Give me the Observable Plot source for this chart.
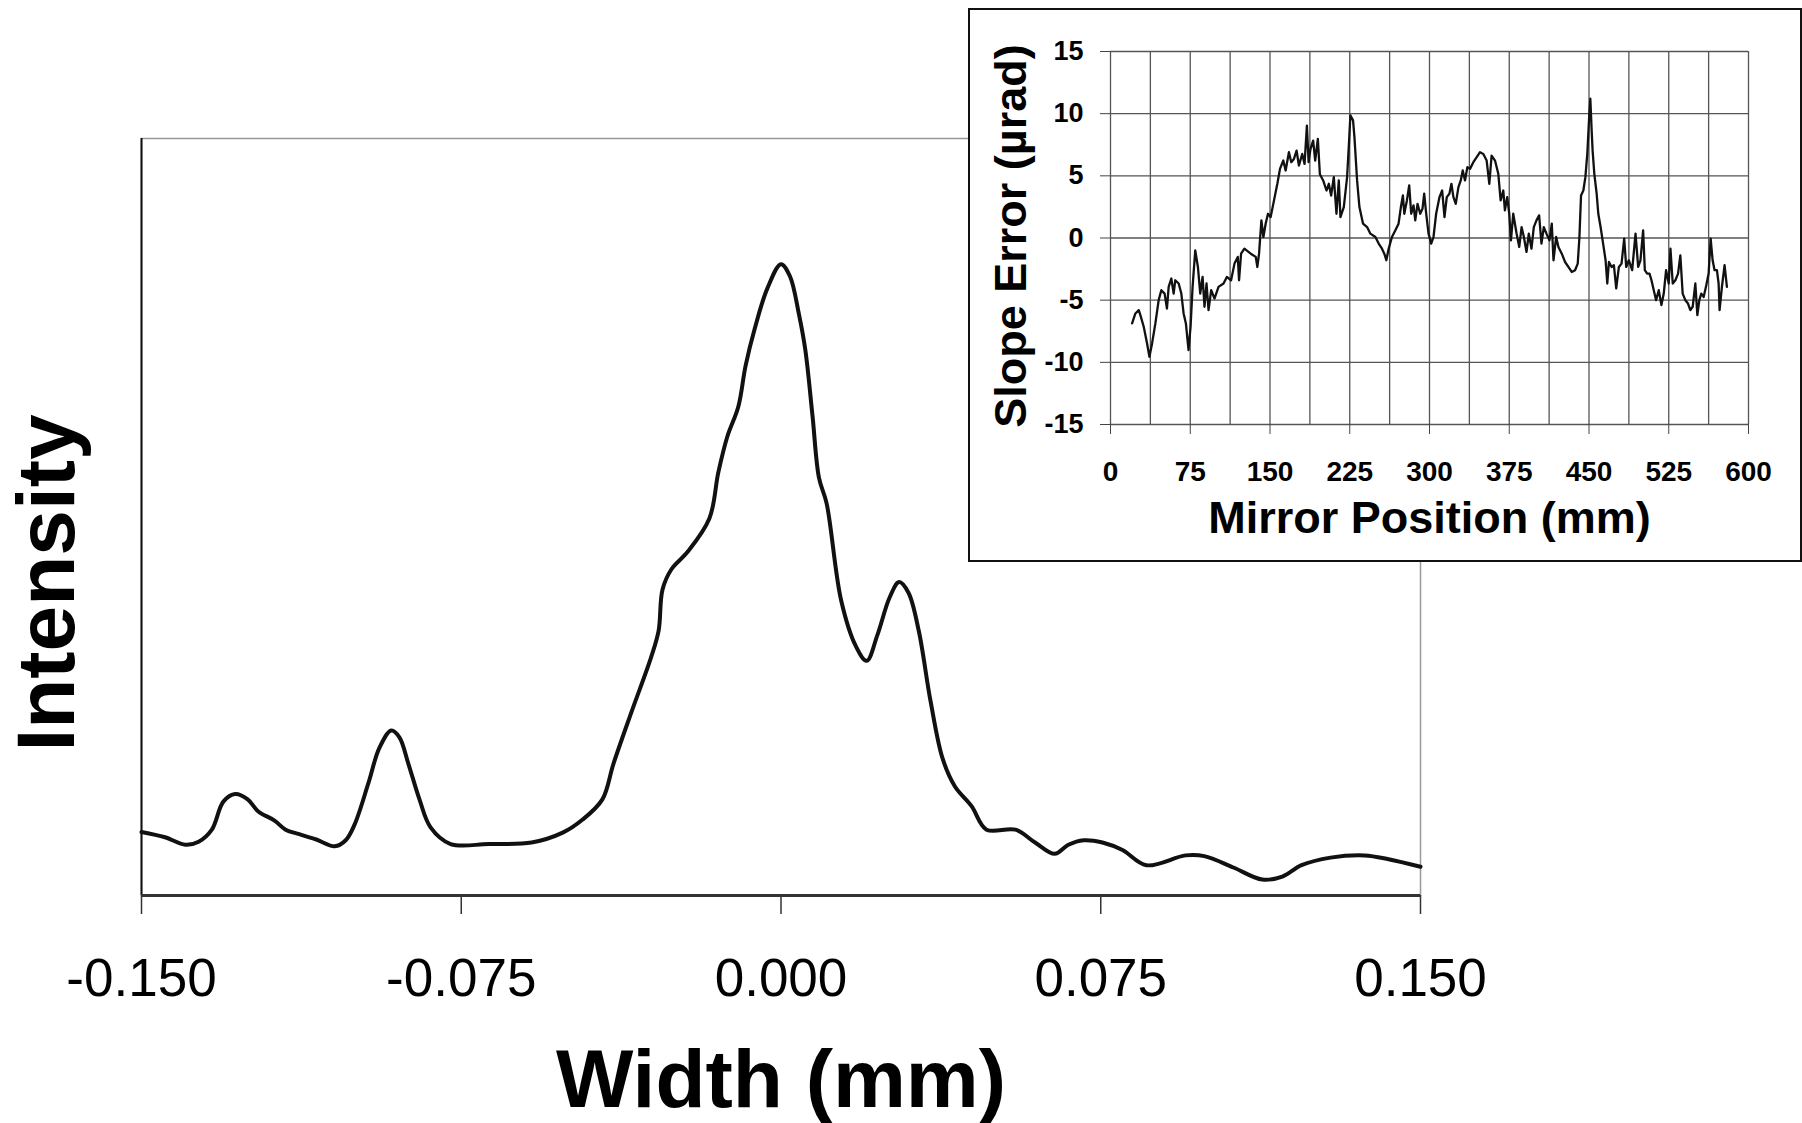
<!DOCTYPE html>
<html><head><meta charset="utf-8">
<script src="https://cdn.jsdelivr.net/npm/d3@7"></script>
<script src="https://cdn.jsdelivr.net/npm/@observablehq/plot@0.6"></script>
<style>
body{margin:0;background:#fff;font-family:"Liberation Sans",Arial,sans-serif;}
#wrap{position:relative;width:1802px;height:1123px;overflow:hidden;background:#fff;}
#main{position:absolute;left:0;top:0;}
#inset{position:absolute;left:968px;top:8px;width:830px;height:550px;border:2px solid #111;background:#fff;}
svg{display:block;}
</style></head><body><div id="wrap"><div id="main"></div><div id="inset"></div></div>
<script>
// Main chart: intensity profile vs width (mm)
const widthMm = [-0.150,-0.1445,-0.1397,-0.1366,-0.1335,-0.1308,-0.1280,-0.1251,-0.1226,-0.1188,-0.1162,-0.1130,-0.1090,-0.1047,-0.1021,-0.1000,-0.0968,-0.0942,-0.0914,-0.0895,-0.0874,-0.0848,-0.0822,-0.0775,-0.0686,-0.0585,-0.0512,-0.0466,-0.0419,-0.0393,-0.0351,-0.0304,-0.0287,-0.0278,-0.0257,-0.0219,-0.0168,-0.0147,-0.0126,-0.0100,-0.0083,-0.0062,-0.0032,0.0000,0.0021,0.0042,0.0057,0.0074,0.0089,0.0107,0.0141,0.0175,0.0201,0.0226,0.0255,0.0277,0.0299,0.0323,0.0351,0.0379,0.0408,0.0447,0.0482,0.0550,0.0596,0.0642,0.0674,0.0710,0.0754,0.0801,0.0857,0.0949,0.0993,0.1061,0.1129,0.1176,0.1221,0.1289,0.1369,0.1425,0.150];
const intensity = [0.084,0.077,0.067,0.071,0.087,0.124,0.134,0.127,0.111,0.099,0.087,0.081,0.074,0.065,0.073,0.094,0.148,0.195,0.218,0.209,0.174,0.127,0.090,0.068,0.068,0.070,0.083,0.100,0.127,0.174,0.242,0.316,0.350,0.404,0.431,0.454,0.498,0.559,0.606,0.646,0.700,0.748,0.802,0.834,0.818,0.768,0.721,0.633,0.552,0.518,0.390,0.330,0.310,0.344,0.394,0.414,0.400,0.350,0.256,0.181,0.144,0.118,0.087,0.087,0.070,0.055,0.067,0.073,0.070,0.060,0.040,0.053,0.052,0.037,0.021,0.025,0.040,0.050,0.053,0.048,0.038];
const widthTicks = [-0.150,-0.075,0.000,0.075,0.150];

// Inset: slope error vs mirror position
const mirrorPos = [20.3,23.4,26.6,28.1,31.25,34.4,36.6,39.1,42.2,45.3,47.8,50.9,53.1,54.7,57.2,59.4,60.9,64.1,66.6,68.75,70.9,73.4,75.3,77.2,79.7,82.2,84.4,86.6,88.4,90.3,92.2,94.7,97.8,101.6,106.3,109.4,113.4,116.6,119.7,120.9,122.8,125.9,131.9,136.6,138.1,139.7,141.9,143.8,145.9,148.1,150.6,153.75,156.9,159.4,162.5,164.7,167.8,170.0,172.5,175.0,177.2,180.3,182.5,184.7,186.3,188.1,190.6,192.5,195.0,196.9,200.0,203.1,205.3,207.5,210.0,212.5,214.7,216.25,219.4,222.5,224.4,225.6,228.1,229.4,231.9,234.1,237.5,241.3,244.4,249.1,252.2,255.3,257.5,259.4,261.6,264.7,267.8,270.9,273.1,275.0,276.3,278.75,280.9,282.8,285.0,286.6,288.75,291.25,293.4,295.0,296.9,299.1,301.6,303.75,306.25,309.4,311.9,314.1,316.25,318.75,320.6,322.5,324.7,327.2,329.4,331.25,333.4,335.6,338.1,341.25,344.4,347.5,350.6,353.75,356.25,358.4,361.6,364.7,366.9,369.4,370.9,373.1,375.0,376.6,378.75,381.9,384.4,386.6,388.75,391.25,393.4,395.9,398.1,400.6,403.1,405.3,407.5,410.0,412.8,415.0,416.6,419.1,421.25,424.4,427.5,430.6,433.75,436.9,439.4,441.0,442.5,444.7,446.6,448.4,450.3,451.25,452.5,453.4,455.0,457.2,458.75,460.9,462.8,465.6,467.2,468.75,471.25,473.4,475.6,478.1,480.6,483.1,485.0,487.5,490.6,493.75,496.25,498.4,500.9,502.5,504.7,506.9,508.75,510.9,513.1,515.6,518.1,520.3,522.5,525.0,526.6,528.75,531.25,533.75,535.9,538.1,540.6,543.1,545.3,547.5,550.0,551.9,553.75,555.6,557.8,560.0,562.5,564.4,566.25,568.1,570.3,571.9,572.8,575.0,577.5,579.7];
const slopeErr = [-6.87,-6.07,-5.80,-6.20,-7.14,-8.48,-9.55,-8.48,-6.87,-5.00,-4.20,-4.47,-5.67,-3.93,-3.26,-4.47,-3.40,-3.66,-4.47,-6.07,-6.87,-9.01,-7.14,-3.93,-0.99,-2.33,-4.47,-3.13,-5.53,-3.66,-5.80,-4.20,-4.87,-3.93,-3.66,-3.13,-3.40,-2.06,-1.52,-3.40,-1.26,-0.86,-1.26,-1.52,-2.33,-1.26,1.42,0.08,1.15,1.95,1.68,3.02,4.36,5.56,6.23,5.43,6.90,6.10,6.36,7.03,5.83,6.76,5.96,9.04,6.10,7.17,7.83,6.23,7.97,5.13,4.63,3.82,4.36,3.42,4.89,1.95,4.63,1.68,2.49,4.89,7.83,9.86,9.46,8.13,4.63,2.49,1.15,0.88,0.35,0.08,-0.45,-0.86,-1.26,-1.79,-0.86,0.08,0.61,1.15,2.49,3.42,1.95,3.02,4.23,1.95,2.62,1.42,2.75,1.95,2.35,3.56,1.95,0.35,-0.45,0.08,1.95,3.29,3.82,1.68,3.29,3.56,4.36,3.29,2.75,4.09,4.63,5.43,4.63,5.70,5.56,6.10,6.50,6.90,6.76,6.23,4.36,6.63,6.23,5.16,3.02,3.82,2.22,3.29,1.95,-0.19,1.95,0.35,-0.72,0.88,0.08,-1.12,0.35,-0.86,0.88,1.42,1.82,-0.45,0.88,0.35,-0.19,1.15,-1.79,0.08,-0.72,-1.26,-1.93,-2.33,-2.73,-2.59,-2.06,0.08,3.42,3.82,4.89,6.76,9.97,11.2,8.64,7.03,5.16,3.56,1.95,0.88,-0.19,-1.79,-3.66,-1.93,-2.33,-2.19,-4.06,-2.33,-2.06,-0.05,-2.33,-1.79,-2.59,0.35,-2.33,-1.79,0.61,-2.59,-2.86,-2.86,-3.40,-4.20,-5.00,-4.20,-5.40,-4.47,-2.59,-3.66,-0.86,-3.66,-3.40,-2.86,-1.39,-4.47,-5.00,-5.27,-5.80,-5.53,-3.66,-6.20,-5.00,-4.47,-4.74,-3.93,-2.86,-0.05,-1.79,-2.59,-2.59,-3.66,-5.80,-3.93,-2.19,-3.93];
const posTicks = [0,75,150,225,300,375,450,525,600];
const posGrid = [0,37.5,75,112.5,150,187.5,225,262.5,300,337.5,375,412.5,450,487.5,525,562.5,600];
const errTicks = [-15,-10,-5,0,5,10,15];

const FONT = '"Liberation Sans", Arial, Helvetica, sans-serif';

const mainData = widthMm.map((x, i) => ({x, y: intensity[i]}));
const main = Plot.plot({
  width: 1802, height: 1123,
  marginLeft: 141, marginRight: 382, marginTop: 138, marginBottom: 228,
  style: {fontFamily: FONT, background: "white", color: "#000"},
  x: {domain: [-0.15, 0.15]},
  y: {domain: [0, 1], axis: null},
  marks: [
    Plot.frame({stroke: "#999", strokeWidth: 1.5}),
    Plot.axisX(widthTicks, {tickSize: 19, tickPadding: 44, tickFormat: d => d.toFixed(3), fontSize: 53, stroke: "#333", strokeWidth: 1.5, label: null}),
    Plot.ruleX([-0.15], {stroke: "#111", strokeWidth: 2}),
    Plot.ruleY([0], {stroke: "#333", strokeWidth: 3}),
    Plot.line(mainData, {x: "x", y: "y", curve: "catmull-rom", stroke: "#111", strokeWidth: 4}),
    Plot.text(["Width (mm)"], {frameAnchor: "bottom", lineAnchor: "middle", textAnchor: "middle", dy: 185, fontSize: 82, fontWeight: "bold", fill: "#000"}),
    Plot.text(["Intensity"], {frameAnchor: "left", lineAnchor: "middle", textAnchor: "middle", dx: -94, dy: 66, rotate: -90, fontSize: 82, fontWeight: "bold", fill: "#000"})
  ]
});
document.getElementById("main").appendChild(main);

const insetData = mirrorPos.map((x, i) => ({x, y: slopeErr[i]}));
const inset = Plot.plot({
  width: 830, height: 550,
  marginLeft: 140, marginRight: 52, marginTop: 41, marginBottom: 136,
  style: {fontFamily: FONT, background: "white", color: "#000"},
  x: {domain: [0, 600]},
  y: {domain: [-15, 15]},
  marks: [
    Plot.gridX(posGrid, {stroke: "#555", strokeOpacity: 1, strokeWidth: 1.3}),
    Plot.gridY(errTicks, {stroke: "#555", strokeOpacity: 1, strokeWidth: 1.3}),
    Plot.axisY(errTicks, {tickSize: 10, tickPadding: 17, tickFormat: d => String(d), fontSize: 27, fontWeight: "bold", stroke: "#444", label: null}),
    Plot.axisX(posTicks, {tickSize: 10, tickPadding: 27, tickFormat: d => String(d), fontSize: 28, fontWeight: "bold", stroke: "#444", label: null}),
    Plot.line(insetData, {x: "x", y: "y", stroke: "#111", strokeWidth: 2.3}),
    Plot.text(["Mirror Position (mm)"], {frameAnchor: "bottom", lineAnchor: "middle", textAnchor: "middle", dy: 94, fontSize: 45, fontWeight: "bold", fill: "#000"}),
    Plot.text(["Slope Error (µrad)"], {frameAnchor: "left", lineAnchor: "middle", textAnchor: "middle", dx: -99, dy: -2, rotate: -90, fontSize: 45, fontWeight: "bold", fill: "#000"})
  ]
});
document.getElementById("inset").appendChild(inset);
</script></body></html>
